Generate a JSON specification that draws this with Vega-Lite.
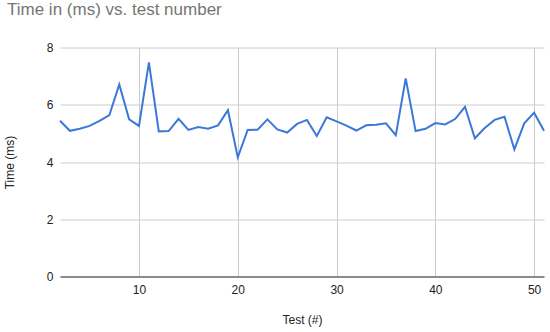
{
  "$schema": "https://vega.github.io/schema/vega-lite/v6.json",
  "width": 484,
  "height": 229,
  "autosize": "none",
  "padding": {"left": 60, "top": 47.5, "right": 6, "bottom": 55.5},
  "background": "white",
  "config": {"font": "Liberation Sans", "view": {"stroke": null}},
  "title": {"text": "Time in (ms) vs. test number", "anchor": "start", "frame": "group", "dx": -53, "offset": 23, "fontSize": 17, "fontWeight": "normal", "color": "#757575"},
  "data": {"values": [
    {"test": 2, "time": 5.44}, {"test": 3, "time": 5.09}, {"test": 4, "time": 5.16}, {"test": 5, "time": 5.26},
    {"test": 6, "time": 5.44}, {"test": 7, "time": 5.64}, {"test": 8, "time": 6.71}, {"test": 9, "time": 5.49},
    {"test": 10, "time": 5.26}, {"test": 11, "time": 7.48}, {"test": 12, "time": 5.07}, {"test": 13, "time": 5.08},
    {"test": 14, "time": 5.51}, {"test": 15, "time": 5.12}, {"test": 16, "time": 5.22}, {"test": 17, "time": 5.16},
    {"test": 18, "time": 5.28}, {"test": 19, "time": 5.81}, {"test": 20, "time": 4.16}, {"test": 21, "time": 5.12},
    {"test": 22, "time": 5.13}, {"test": 23, "time": 5.49}, {"test": 24, "time": 5.14}, {"test": 25, "time": 5.03},
    {"test": 26, "time": 5.33}, {"test": 27, "time": 5.47}, {"test": 28, "time": 4.91}, {"test": 29, "time": 5.56},
    {"test": 30, "time": 5.42}, {"test": 31, "time": 5.27}, {"test": 32, "time": 5.10}, {"test": 33, "time": 5.28},
    {"test": 34, "time": 5.30}, {"test": 35, "time": 5.35}, {"test": 36, "time": 4.94}, {"test": 37, "time": 6.92},
    {"test": 38, "time": 5.08}, {"test": 39, "time": 5.16}, {"test": 40, "time": 5.36}, {"test": 41, "time": 5.31},
    {"test": 42, "time": 5.50}, {"test": 43, "time": 5.93}, {"test": 44, "time": 4.83}, {"test": 45, "time": 5.19},
    {"test": 46, "time": 5.47}, {"test": 47, "time": 5.58}, {"test": 48, "time": 4.44}, {"test": 49, "time": 5.35},
    {"test": 50, "time": 5.72}, {"test": 51, "time": 5.09}
  ]},
  "mark": {"type": "line", "color": "#3c78d8", "strokeWidth": 2, "strokeJoin": "miter"},
  "encoding": {
    "x": {"field": "test", "type": "quantitative", "title": "Test (#)",
      "scale": {"domain": [2, 51], "nice": false, "zero": false},
      "axis": {"values": [10, 20, 30, 40, 50], "ticks": false, "domainColor": "#333333", "domainWidth": 1,
        "gridColor": "#cccccc", "labelFontSize": 12, "labelColor": "#222222", "labelPadding": 8,
        "titleFontSize": 12, "titleFontWeight": "normal", "titleColor": "#222222", "titlePadding": 19}},
    "y": {"field": "time", "type": "quantitative", "title": "Time (ms)",
      "scale": {"domain": [0, 8], "nice": false},
      "axis": {"values": [0, 2, 4, 6, 8], "ticks": false, "domain": false,
        "gridColor": "#cccccc", "labelFontSize": 12, "labelColor": "#222222", "labelPadding": 7,
        "titleFontSize": 12, "titleFontWeight": "normal", "titleColor": "#222222", "titlePadding": 30}}
  }
}
